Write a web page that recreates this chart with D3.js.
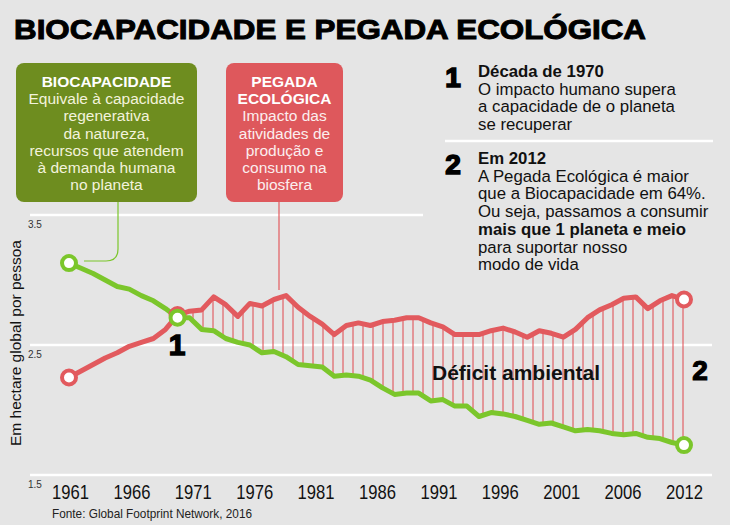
<!DOCTYPE html>
<html>
<head>
<meta charset="utf-8">
<script src="https://cdn.jsdelivr.net/npm/d3@7"></script>
<style>
  body { margin: 0; background: #e5e5e5; }
  svg { display: block; font-family: "Liberation Sans", Arial, sans-serif; }
</style>
</head>
<body>
<div id="graph"></div>
<script>
// Dados (Global Footprint Network, 2016)
const years = [1961, 1962, 1963, 1964, 1965, 1966, 1967, 1968, 1969, 1970,
  1971, 1972, 1973, 1974, 1975, 1976, 1977, 1978, 1979, 1980,
  1981, 1982, 1983, 1984, 1985, 1986, 1987, 1988, 1989, 1990,
  1991, 1992, 1993, 1994, 1995, 1996, 1997, 1998, 1999, 2000,
  2001, 2002, 2003, 2004, 2005, 2006, 2007, 2008, 2009, 2010,
  2011, 2012]

const biocapacity = [3.13, 3.09, 3.05, 3.00, 2.95, 2.93, 2.88, 2.84, 2.78, 2.71,
  2.71, 2.62, 2.61, 2.55, 2.52, 2.50, 2.44, 2.45, 2.41, 2.35,
  2.34, 2.33, 2.26, 2.27, 2.26, 2.23, 2.17, 2.12, 2.13, 2.13,
  2.07, 2.08, 2.03, 2.03, 1.95, 1.98, 1.97, 1.95, 1.92, 1.89,
  1.90, 1.87, 1.84, 1.85, 1.84, 1.82, 1.81, 1.82, 1.79, 1.78,
  1.75, 1.73]

const footprint = [2.25, 2.30, 2.35, 2.40, 2.44, 2.49, 2.52, 2.55, 2.62, 2.73,
  2.76, 2.77, 2.87, 2.81, 2.72, 2.82, 2.80, 2.85, 2.88, 2.79,
  2.72, 2.66, 2.58, 2.65, 2.67, 2.65, 2.68, 2.69, 2.71, 2.71,
  2.67, 2.64, 2.58, 2.58, 2.58, 2.61, 2.63, 2.60, 2.56, 2.61,
  2.59, 2.56, 2.62, 2.71, 2.77, 2.81, 2.86, 2.87, 2.78, 2.84,
  2.88, 2.85]

const tickLabels = ["1961", "1966", "1971", "1976", "1981", "1986",
  "1991", "1996", "2001", "2006", "2012"]
const yTicks = [1.5, 2.5, 3.5]
const markedYears = [1961, 1970, 2012]

const width = 730
const height = 525
const green = "#7bc62b"
const red = "#e25a5e"

const data = years.map((year, i) => ({ year, bio: biocapacity[i], eco: footprint[i] }))

var svg = d3.select("#graph")
  .append("svg")
    .attr("width", width)
    .attr("height", height)

svg.append("rect")
  .attr("width", width)
  .attr("height", height)
  .attr("fill", "#e5e5e5")

var x = d3.scaleLinear()
  .domain([1961, 2012])
  .range([69, 684])

var y = d3.scaleLinear()
  .domain([1.5, 3.5])
  .range([475, 215])

// labels are evenly spaced in the original
var xLabel = d3.scalePoint()
  .domain(tickLabels)
  .range([70, 684])

// hatch pattern for the deficit area
var defs = svg.append("defs")
var pattern = defs.append("pattern")
  .attr("id", "hatch")
  .attr("patternUnits", "userSpaceOnUse")
  .attr("width", 10)
  .attr("height", 10)
pattern.append("line")
  .attr("x1", 3).attr("x2", 3)
  .attr("y1", 0).attr("y2", 10)
  .attr("stroke", "#e0454c")
  .attr("stroke-width", 1)

// title
svg.append("text")
  .attr("x", 14)
  .attr("y", 39)
  .attr("font-size", 28)
  .attr("font-weight", "bold")
  .attr("fill", "#000")
  .attr("stroke", "#000")
  .attr("stroke-width", 1)
  .attr("textLength", 632)
  .attr("lengthAdjust", "spacingAndGlyphs")
  .text("BIOCAPACIDADE E PEGADA ECOLÓGICA")

// gridlines
svg.append("g")
  .selectAll("line")
  .data(yTicks)
  .join("line")
    .attr("x1", 30)
    .attr("x2", d => d === 3.5 ? 423 : 712)
    .attr("y1", d => y(d))
    .attr("y2", d => y(d))
    .attr("stroke", "#fff")
    .attr("stroke-width", 2.5)

var yAxis = svg.append("g")
  .attr("transform", "translate(28,0)")
  .call(d3.axisLeft(y).tickValues(yTicks).tickSize(0).tickFormat(d3.format(".1f")))
yAxis.select(".domain").remove()
yAxis.selectAll("text")
  .attr("x", 0)
  .attr("dy", 12)
  .attr("text-anchor", "start")
  .attr("font-size", 10)
  .attr("font-family", "Liberation Sans, Arial, sans-serif")
  .attr("fill", "#333")

var xAxis = svg.append("g")
  .attr("transform", "translate(0,499)")
  .call(d3.axisBottom(xLabel).tickSize(0))
xAxis.select(".domain").remove()
xAxis.selectAll("text")
  .attr("y", 0)
  .attr("dy", 0)
  .attr("font-size", 20)
  .attr("font-family", "Liberation Sans, Arial, sans-serif")
  .attr("fill", "#111")
  .attr("textLength", 37)
  .attr("lengthAdjust", "spacingAndGlyphs")

svg.append("text")
  .attr("transform", "translate(21,343) rotate(-90)")
  .attr("text-anchor", "middle")
  .attr("font-size", 15.5)
  .attr("fill", "#111")
  .text("Em hectare global por pessoa")

svg.append("text")
  .attr("x", 52)
  .attr("y", 518)
  .attr("font-size", 13)
  .attr("fill", "#222")
  .attr("textLength", 200)
  .attr("lengthAdjust", "spacingAndGlyphs")
  .text("Fonte: Global Footprint Network, 2016")

// deficit area (after the crossing)
svg.append("path")
  .datum(data.filter(d => d.year >= 1970))
  .attr("fill", "url(#hatch)")
  .attr("d", d3.area()
    .x(d => x(d.year))
    .y0(d => y(d.bio))
    .y1(d => y(d.eco)))

// connectors from the boxes
svg.append("path")
  .attr("d", "M118,202 V249 Q118,261 106,261 H84")
  .attr("fill", "none")
  .attr("stroke", green)
  .attr("stroke-width", 1.2)
svg.append("line")
  .attr("x1", 279).attr("x2", 279)
  .attr("y1", 202).attr("y2", 290)
  .attr("stroke", red)
  .attr("stroke-width", 1.2)

// lines
svg.append("path")
  .datum(data)
  .attr("fill", "none")
  .attr("stroke", red)
  .attr("stroke-width", 5)
  .attr("stroke-linejoin", "round")
  .attr("d", d3.line()
    .x(d => x(d.year))
    .y(d => y(d.eco)))

svg.append("path")
  .datum(data)
  .attr("fill", "none")
  .attr("stroke", green)
  .attr("stroke-width", 5)
  .attr("stroke-linejoin", "round")
  .attr("d", d3.line()
    .x(d => x(d.year))
    .y(d => y(d.bio)))

var marked = data.filter(d => markedYears.includes(d.year))

svg.append("g")
  .selectAll("circle")
  .data(marked)
  .join("circle")
    .attr("cx", d => x(d.year))
    .attr("cy", d => y(d.eco))
    .attr("r", 7)
    .attr("fill", "#fff")
    .attr("stroke", red)
    .attr("stroke-width", 4)

svg.append("g")
  .selectAll("circle")
  .data(marked)
  .join("circle")
    .attr("cx", d => x(d.year))
    .attr("cy", d => y(d.bio))
    .attr("r", 7)
    .attr("fill", "#fff")
    .attr("stroke", green)
    .attr("stroke-width", 4)

// numbers on the chart
svg.append("text")
  .attr("x", 177).attr("y", 355)
  .attr("text-anchor", "middle")
  .attr("font-size", 30)
  .attr("font-weight", "bold")
  .attr("stroke", "#000").attr("stroke-width", 1.4)
  .text("1")
svg.append("text")
  .attr("x", 700).attr("y", 380)
  .attr("text-anchor", "middle")
  .attr("font-size", 28)
  .attr("font-weight", "bold")
  .attr("stroke", "#000").attr("stroke-width", 1.2)
  .text("2")

svg.append("text")
  .attr("x", 432).attr("y", 380)
  .attr("font-size", 21)
  .attr("font-weight", "bold")
  .attr("fill", "#111")
  .text("Déficit ambiental")

// boxes
function box(x0, w, fill, bold, lines, textFill) {
  svg.append("rect")
    .attr("x", x0).attr("y", 63)
    .attr("width", w).attr("height", 139)
    .attr("rx", 8)
    .attr("fill", fill)
  var t = svg.append("text")
    .attr("text-anchor", "middle")
    .attr("font-size", 15.5)
  bold.concat(lines).forEach((line, i) => {
    t.append("tspan")
      .attr("x", x0 + w / 2)
      .attr("y", 87 + i * 17.2)
      .attr("font-weight", i < bold.length ? "bold" : "normal")
      .attr("fill", i < bold.length ? "#fff" : textFill)
      .text(line)
  })
}

box(16, 181, "#6e8d1f", ["BIOCAPACIDADE"],
  ["Equivale à capacidade", "regenerativa", "da natureza,", "recursos que atendem",
   "à demanda humana", "no planeta"], "#f3f3dc")
box(226, 117, "#de585c", ["PEGADA", "ECOLÓGICA"],
  ["Impacto das", "atividades de", "produção e", "consumo na", "biosfera"], "#fbeeee")

// notes on the right
svg.append("line")
  .attr("x1", 445).attr("x2", 713)
  .attr("y1", 141).attr("y2", 141)
  .attr("stroke", "#fff")
  .attr("stroke-width", 2.5)

function note(num, top, lines, boldLines) {
  svg.append("text")
    .attr("x", 453).attr("y", top + 20)
    .attr("text-anchor", "middle")
    .attr("font-size", 28)
    .attr("font-weight", "bold")
    .attr("stroke", "#000").attr("stroke-width", 1.6)
    .text(num)
  var t = svg.append("text")
    .attr("font-size", 16.8)
    .attr("fill", "#111")
  lines.forEach((line, i) => {
    t.append("tspan")
      .attr("x", 478)
      .attr("y", top + 10 + i * 17.7)
      .attr("font-weight", boldLines.includes(i) ? "bold" : "normal")
      .text(line)
  })
}

note("1", 67, ["Década de 1970", "O impacto humano supera",
  "a capacidade de o planeta", "se recuperar"], [0])
note("2", 154, ["Em 2012", "A Pegada Ecológica é maior",
  "que a Biocapacidade em 64%.", "Ou seja, passamos a consumir",
  "mais que 1 planeta e meio", "para suportar nosso", "modo de vida"], [0, 4])
</script>
</body>
</html>
